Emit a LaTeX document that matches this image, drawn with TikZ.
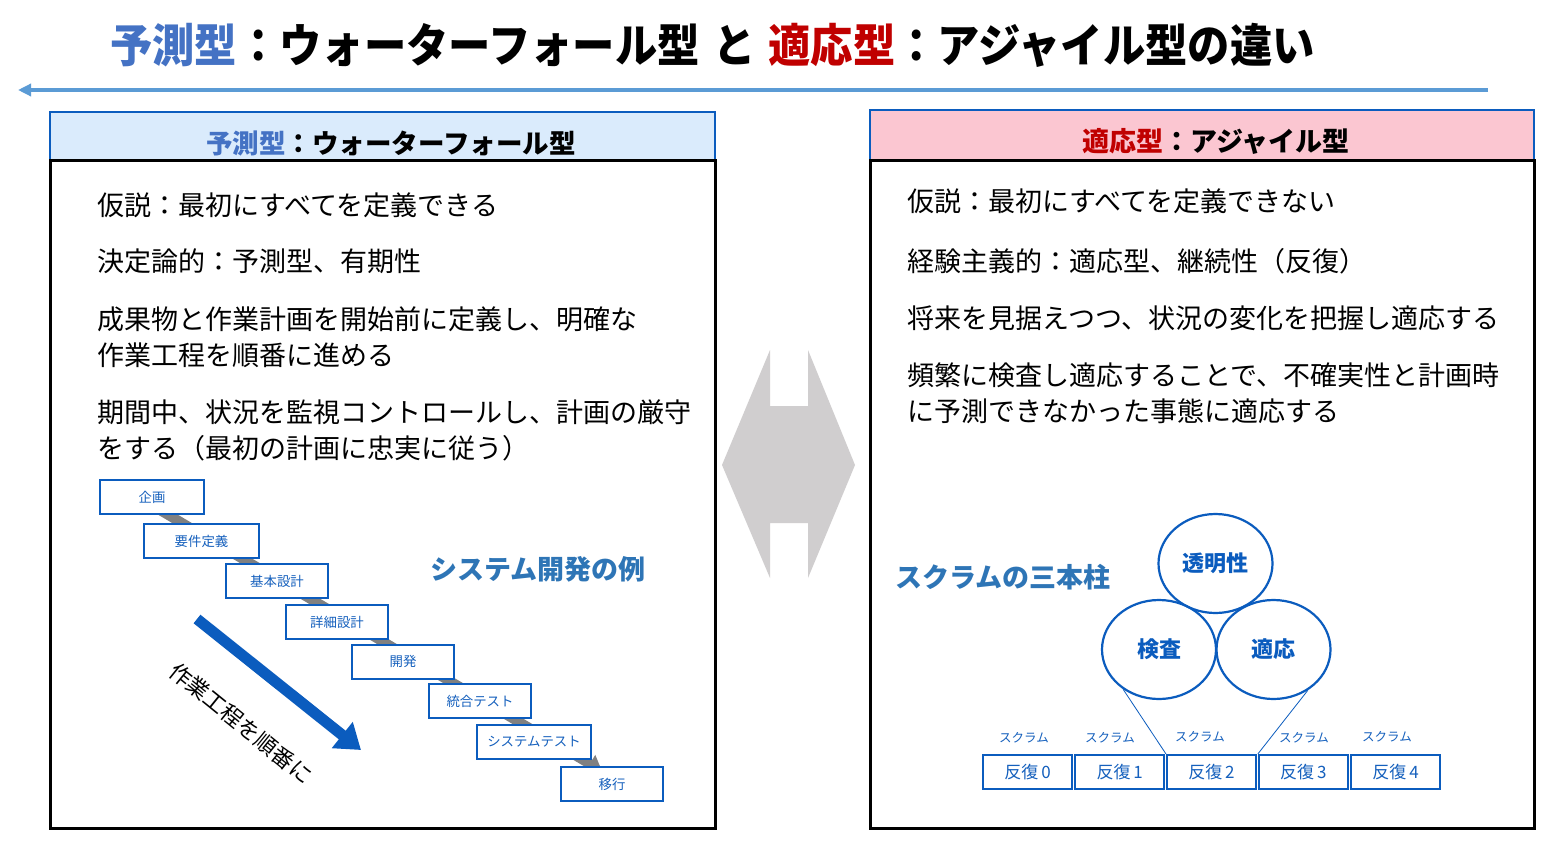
\documentclass[tikz,border=0pt]{standalone}
\usepackage{fontspec}
\setmainfont{Noto Sans CJK JP}
\usetikzlibrary{arrows.meta,shapes.geometric}
\definecolor{tblue}{HTML}{4472C4}
\definecolor{tred}{HTML}{C00000}
\definecolor{lineblue}{HTML}{5B9BD5}
\definecolor{boxblue}{HTML}{0B5CBE}
\definecolor{wftext}{HTML}{1560BD}
\definecolor{steel}{HTML}{2E75B6}
\definecolor{hdrblue}{HTML}{DAEBFC}
\definecolor{hdrpink}{HTML}{FBC6D1}
\definecolor{bandgray}{HTML}{808080}
\definecolor{ctrgray}{HTML}{D0CECF}
\begin{document}
\begin{tikzpicture}[x=1pt,y=-1pt,
  body/.style={anchor=west,inner sep=0pt,font=\fontsize{27}{30}\selectfont,text=black},
  hdr/.style={inner sep=0pt,font=\fontsize{27}{30}\selectfont\bfseries,text=black},
  wfbox/.style={draw=boxblue,line width=2pt,fill=white,inner sep=0pt,minimum height=34pt,text=wftext,font=\fontsize{13.4}{14}\selectfont},
  itbox/.style={draw=boxblue,line width=2pt,fill=white,inner sep=0pt,minimum width=89pt,minimum height=34pt,text=wftext,font=\fontsize{17}{18}\selectfont},
  pillar/.style={ellipse,draw=boxblue,line width=2.2pt,inner sep=0pt,minimum width=114pt,minimum height=99pt,text=boxblue,font=\fontsize{22}{24}\selectfont\bfseries},
  scl/.style={inner sep=0pt,text=wftext,font=\fontsize{12.5}{13}\selectfont},
  bigblue/.style={inner sep=0pt,text=steel,font=\fontsize{27}{30}\selectfont\bfseries}
]
\useasboundingbox (0,0) rectangle (1560,846);
\fill[white] (0,0) rectangle (1560,846);

% title
\node[anchor=west,inner sep=0pt] (title) at (110,45) {\scalebox{0.94}[1.02]{\fontsize{45}{50}\selectfont\bfseries{\color{tblue}予測型}：ウォーターフォール型\hspace{14pt}と\hspace{14pt}{\color{tred}適応型}：アジャイル型の違い}};
\coordinate (la) at (1488,90);
\coordinate (lb) at (18,90);
\draw[lineblue,line width=3.5pt,-{Triangle[length=13pt,width=12pt]}] (la) -- (lb);

% left panel
\draw[fill=hdrblue,draw=boxblue,line width=2.5pt] (50,112) rectangle (715,160);
\draw[black,line width=3pt] (50,160) rectangle (715,828);
\node[hdr,font=\fontsize{26.5}{30}\selectfont\bfseries] (lh) at (391,143) {{\color{tblue}予測型}：ウォーターフォール型};

\node[body] (l1) at (97,205) {仮説：最初にすべてを定義できる};
\node[body] (l2) at (97,261) {決定論的：予測型、有期性};
\node[body] (l3) at (97,319) {成果物と作業計画を開始前に定義し、明確な};
\node[body] (l4) at (97,355) {作業工程を順番に進める};
\node[body] (l5) at (97,412) {期間中、状況を監視コントロールし、計画の厳守};
\node[body] (l6) at (97,448) {をする（最初の計画に忠実に従う）};

% waterfall
\coordinate (gs) at (160,510);
\coordinate (ge) at (602,771);
\draw[bandgray,line width=10pt,-{Triangle[length=14pt,width=20pt]}] (gs) -- (ge);
\node[wfbox,minimum width=104pt] (w1) at (152,497) {企画};
\node[wfbox,minimum width=115pt] (w2) at (201.5,541) {要件定義};
\node[wfbox,minimum width=102pt] (w3) at (277,581) {基本設計};
\node[wfbox,minimum width=102pt] (w4) at (337,622) {詳細設計};
\node[wfbox,minimum width=102pt] (w5) at (403,661.5) {開発};
\node[wfbox,minimum width=102pt] (w6) at (480,701) {統合テスト};
\node[wfbox,minimum width=114pt] (w7) at (534,742) {システムテスト};
\node[wfbox,minimum width=102pt] (w8) at (612,784) {移行};
\node[bigblue] (ex) at (538,569) {システム開発の例};
\coordinate (ba1) at (197,619);
\coordinate (ba2) at (361,750);
\draw[boxblue,line width=11pt,-{Triangle[length=24pt,width=32pt]}] (ba1) -- (ba2);
\node[inner sep=0pt,rotate=-39,font=\fontsize{22}{24}\selectfont] (wt) at (241,723) {作業工程を順番に};

% center double arrow
\fill[ctrgray] (770,350) -- (770,406) -- (808,406) -- (808,350) -- (855,465) -- (808,578) -- (808,523) -- (770,523) -- (770,578) -- (722,465) -- cycle;

% right panel
\draw[fill=hdrpink,draw=boxblue,line width=2.5pt] (870,110) rectangle (1534,160);
\draw[black,line width=3pt] (870,160) rectangle (1534,828);
\node[hdr] (rh) at (1216,141) {{\color{tred}適応型}：アジャイル型};

\node[body] (r1) at (907,201) {仮説：最初にすべてを定義できない};
\node[body] (r2) at (907,261) {経験主義的：適応型、継続性（反復）};
\node[body] (r3) at (907,318) {将来を見据えつつ、状況の変化を把握し適応する};
\node[body] (r4) at (907,375) {頻繁に検査し適応することで、不確実性と計画時};
\node[body] (r5) at (907,411) {に予測できなかった事態に適応する};

% scrum
\node[bigblue] (sc) at (1003,577) {スクラムの三本柱};
\node[pillar] (tp) at (1215.5,563.5) {透明性};
\node[pillar] (ip) at (1159,649.5) {検査};
\node[pillar] (ap) at (1273.5,649.5) {適応};

\node[itbox] (i0) at (1027.6,772) {反復\,0};
\node[itbox] (i1) at (1119.7,772) {反復\,1};
\node[itbox] (i2) at (1211.5,772) {反復\,2};
\node[itbox] (i3) at (1303.3,772) {反復\,3};
\node[itbox] (i4) at (1395.6,772) {反復\,4};

\node[scl] (s0) at (1024,738) {スクラム};
\node[scl] (s1) at (1110,738) {スクラム};
\node[scl] (s2) at (1200,737) {スクラム};
\node[scl] (s3) at (1304,738) {スクラム};
\node[scl] (s4) at (1387,737) {スクラム};

\draw[boxblue,line width=0.8pt] (ip.228) -- (i2.north west);
\draw[boxblue,line width=0.8pt] (ap.310) -- (i3.north west);
\end{tikzpicture}
\end{document}
